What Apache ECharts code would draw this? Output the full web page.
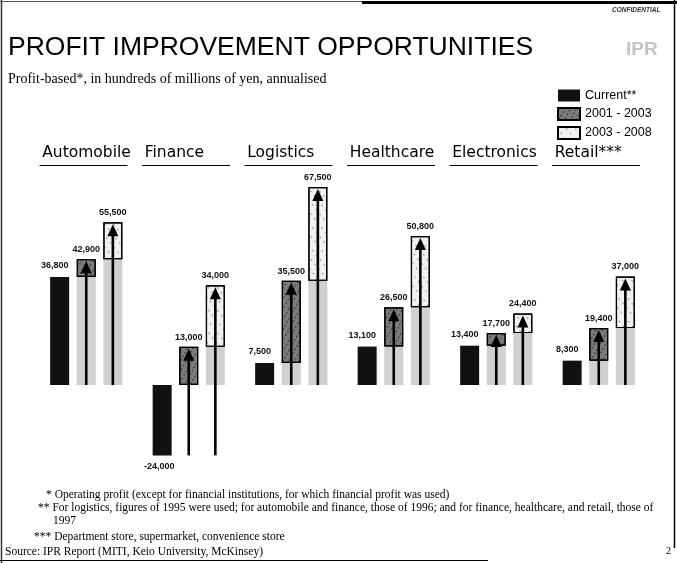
<!DOCTYPE html>
<html>
<head>
<meta charset="utf-8">
<script src="https://cdn.jsdelivr.net/npm/echarts@6/dist/echarts.min.js"></script>
<style>
  html, body { margin: 0; padding: 0; background: #fff; }
  #chart { width: 677px; height: 563px; }
</style>
</head>
<body>
<div id="chart"></div>
<script>
// 数据：单位为亿日元（年化）
const categories = ['Automobile', 'Finance', 'Logistics', 'Healthcare', 'Electronics', 'Retail***'];
const current = [36800, -24000, 7500, 13100, 13400, 8300];
const level2003 = [42900, 13000, 35500, 26500, 17700, 19400];
const level2008 = [55500, 34000, 67500, 50800, 24400, 37000];
const legendNames = ['Current**', '2001 - 2003', '2003 - 2008'];
const footnotes = [
  '* Operating profit (except for financial institutions, for which financial profit was used)',
  '** For logistics, figures of 1995 were used; for automobile and finance, those of 1996; and for finance, healthcare, and retail, those of',
  '1997',
  '*** Department store, supermarket, convenience store',
  'Source: IPR Report (MITI, Keio University, McKinsey)'
];

// 阶梯：底部灰色部分 + 增量框
const base2 = current.map(v => Math.max(v, 0));
const step2 = level2003.map((v, i) => v - base2[i]);
const base3 = level2003.map(v => Math.max(v, 0));
const step3 = level2008.map((v, i) => v - level2003[i]);

// 箭头：从零线（或负值底部）到目标值
const arrows = [];
categories.forEach((c, i) => {
  const from = Math.min(current[i], 0);
  arrows.push([i, from, level2003[i], 1]);
  arrows.push([i, from, level2008[i], 2]);
});

const BAR_W = 19;
const numFont = { fontFamily: 'Liberation Sans', fontSize: 9, fontWeight: 'bold', color: '#111' };
const fmt = v => v.toLocaleString('en-US');
const noteStyle = { fontFamily: 'Liberation Serif', fontSize: 11.5, fill: '#000' };

const chart = echarts.init(document.getElementById('chart'), null, { renderer: 'canvas' });

chart.setOption({
  backgroundColor: '#fff',
  animation: false,
  title: [{
    text: 'PROFIT IMPROVEMENT OPPORTUNITIES',
    left: 3, top: 29,
    textStyle: { fontFamily: 'Liberation Sans', fontSize: 26.5, fontWeight: 'normal', color: '#000' }
  }, {
    text: 'Profit-based*, in hundreds of millions of yen, annualised',
    left: 3, top: 67,
    textStyle: { fontFamily: 'Liberation Serif', fontSize: 14, fontWeight: 'normal', color: '#000' }
  }],
  legend: {
    data: legendNames,
    orient: 'vertical',
    left: 557, top: 89, padding: 0,
    itemWidth: 22, itemHeight: 12, itemGap: 5,
    icon: 'rect',
    textStyle: { fontFamily: 'Liberation Sans', fontSize: 12.5, color: '#000' }
  },
  grid: { left: 35, right: 27, top: 165, height: 308 },
  xAxis: {
    type: 'category',
    position: 'top',
    data: categories,
    axisTick: { show: false },
    axisLine: {
      show: true, onZero: false,
      lineStyle: { color: '#000', width: 1.2, type: [87, 15.5], dashOffset: 97.5 }
    },
    axisLabel: {
      margin: 4,
      formatter: v => '{h|' + v + '}',
      rich: {
        h: { width: 88, align: 'left', fontFamily: 'DejaVu Sans', fontSize: 15.5, color: '#000' }
      }
    }
  },
  yAxis: {
    type: 'value',
    min: -30000, max: 75000,
    show: false,
    splitLine: { show: false }
  },
  series: [
    {
      name: legendNames[0], type: 'bar', stack: 'a', barWidth: BAR_W, barGap: '40%',
      data: current.map(v => v < 0 ? { value: v, label: { position: 'bottom', offset: [-3, 0] } } : v),
      itemStyle: { color: '#111' },
      label: {
        show: true, ...numFont,
        position: 'top', distance: 7, offset: [-5, 0],
        formatter: p => fmt(p.value)
      }
    },
    {
      name: 'base2', type: 'bar', stack: 'b', barWidth: BAR_W, barGap: '40%',
      data: base2, itemStyle: { color: '#d0d0d0' }, silent: true
    },
    {
      name: legendNames[1], type: 'bar', stack: 'b', barWidth: BAR_W, barGap: '40%',
      data: step2,
      itemStyle: {
        color: '#7c7c7c', borderColor: '#000', borderWidth: 1.2,
        decal: { symbol: 'circle', symbolSize: 0.7, dashArrayX: [[3, 2]], dashArrayY: [2, 2], rotation: 0.5, color: '#111' }
      },
      label: {
        show: true, ...numFont, position: 'top', distance: 5,
        formatter: p => fmt(level2003[p.dataIndex])
      }
    },
    {
      name: 'base3', type: 'bar', stack: 'c', barWidth: BAR_W, barGap: '40%',
      data: base3, itemStyle: { color: '#d0d0d0' }, silent: true
    },
    {
      name: legendNames[2], type: 'bar', stack: 'c', barWidth: BAR_W, barGap: '40%',
      data: step3,
      itemStyle: {
        color: '#f1f1f1', borderColor: '#000', borderWidth: 1.2,
        decal: { symbol: 'circle', symbolSize: 0.6, dashArrayX: [[2, 4]], dashArrayY: [3, 4], rotation: 0.9, color: '#222' }
      },
      label: {
        show: true, ...numFont, position: 'top', distance: 5,
        formatter: p => fmt(level2008[p.dataIndex])
      }
    },
    {
      name: 'arrows', type: 'custom', z: 5, silent: true,
      data: arrows,
      encode: { x: 0, y: [1, 2] },
      renderItem: (params, api) => {
        const cat = api.value(0);
        const from = api.value(1);
        const to = api.value(2);
        const slot = api.value(3);
        const top = api.coord([cat, to]);
        const bot = api.coord([cat, from]);
        const x = top[0] + (slot - 1) * BAR_W * 1.4;
        const headH = 12, headW = 11, y0 = top[1] + 2;
        return {
          type: 'group',
          children: [
            { type: 'rect', shape: { x: x - 1.3, y: y0 + headH - 1, width: 2.6, height: bot[1] - y0 - headH + 1 }, style: { fill: '#000' } },
            { type: 'polygon', shape: { points: [[x, y0], [x - headW / 2, y0 + headH], [x + headW / 2, y0 + headH]] }, style: { fill: '#000' } }
          ]
        };
      }
    }
  ],
  graphic: [
    { type: 'line', shape: { x1: 1.5, y1: 0, x2: 1.5, y2: 563 }, style: { stroke: '#333', lineWidth: 1.5 } },
    { type: 'line', shape: { x1: 0, y1: 1.5, x2: 677, y2: 1.5 }, style: { stroke: '#555', lineWidth: 1.2 } },
    { type: 'line', shape: { x1: 362, y1: 2.5, x2: 677, y2: 2.5 }, style: { stroke: '#000', lineWidth: 3 } },
    { type: 'line', shape: { x1: 674.5, y1: 0, x2: 674.5, y2: 548 }, style: { stroke: '#000', lineWidth: 1.5 } },
    { type: 'line', shape: { x1: 0, y1: 560.5, x2: 488, y2: 560.5 }, style: { stroke: '#000', lineWidth: 1.2 } },
    { type: 'text', left: 612, top: 7, style: { text: 'CONFIDENTIAL', fontFamily: 'Liberation Sans', fontSize: 6.5, fontStyle: 'italic', fontWeight: 'bold', fill: '#333' } },
    { type: 'text', left: 626, top: 40, style: { text: 'IPR', fontFamily: 'Liberation Sans', fontSize: 19, fontWeight: 'bold', fill: '#c4c4c4' } },
    { type: 'text', left: 46, top: 489, style: { text: footnotes[0], ...noteStyle } },
    { type: 'text', left: 38, top: 502, style: { text: footnotes[1], ...noteStyle } },
    { type: 'text', left: 53, top: 515, style: { text: footnotes[2], ...noteStyle } },
    { type: 'text', left: 34, top: 531, style: { text: footnotes[3], ...noteStyle } },
    { type: 'text', left: 5, top: 546, style: { text: footnotes[4], ...noteStyle } },
    { type: 'text', left: 666, top: 546, style: { text: '2', fontFamily: 'Liberation Serif', fontSize: 10, fill: '#000' } }
  ]
});
</script>
</body>
</html>
